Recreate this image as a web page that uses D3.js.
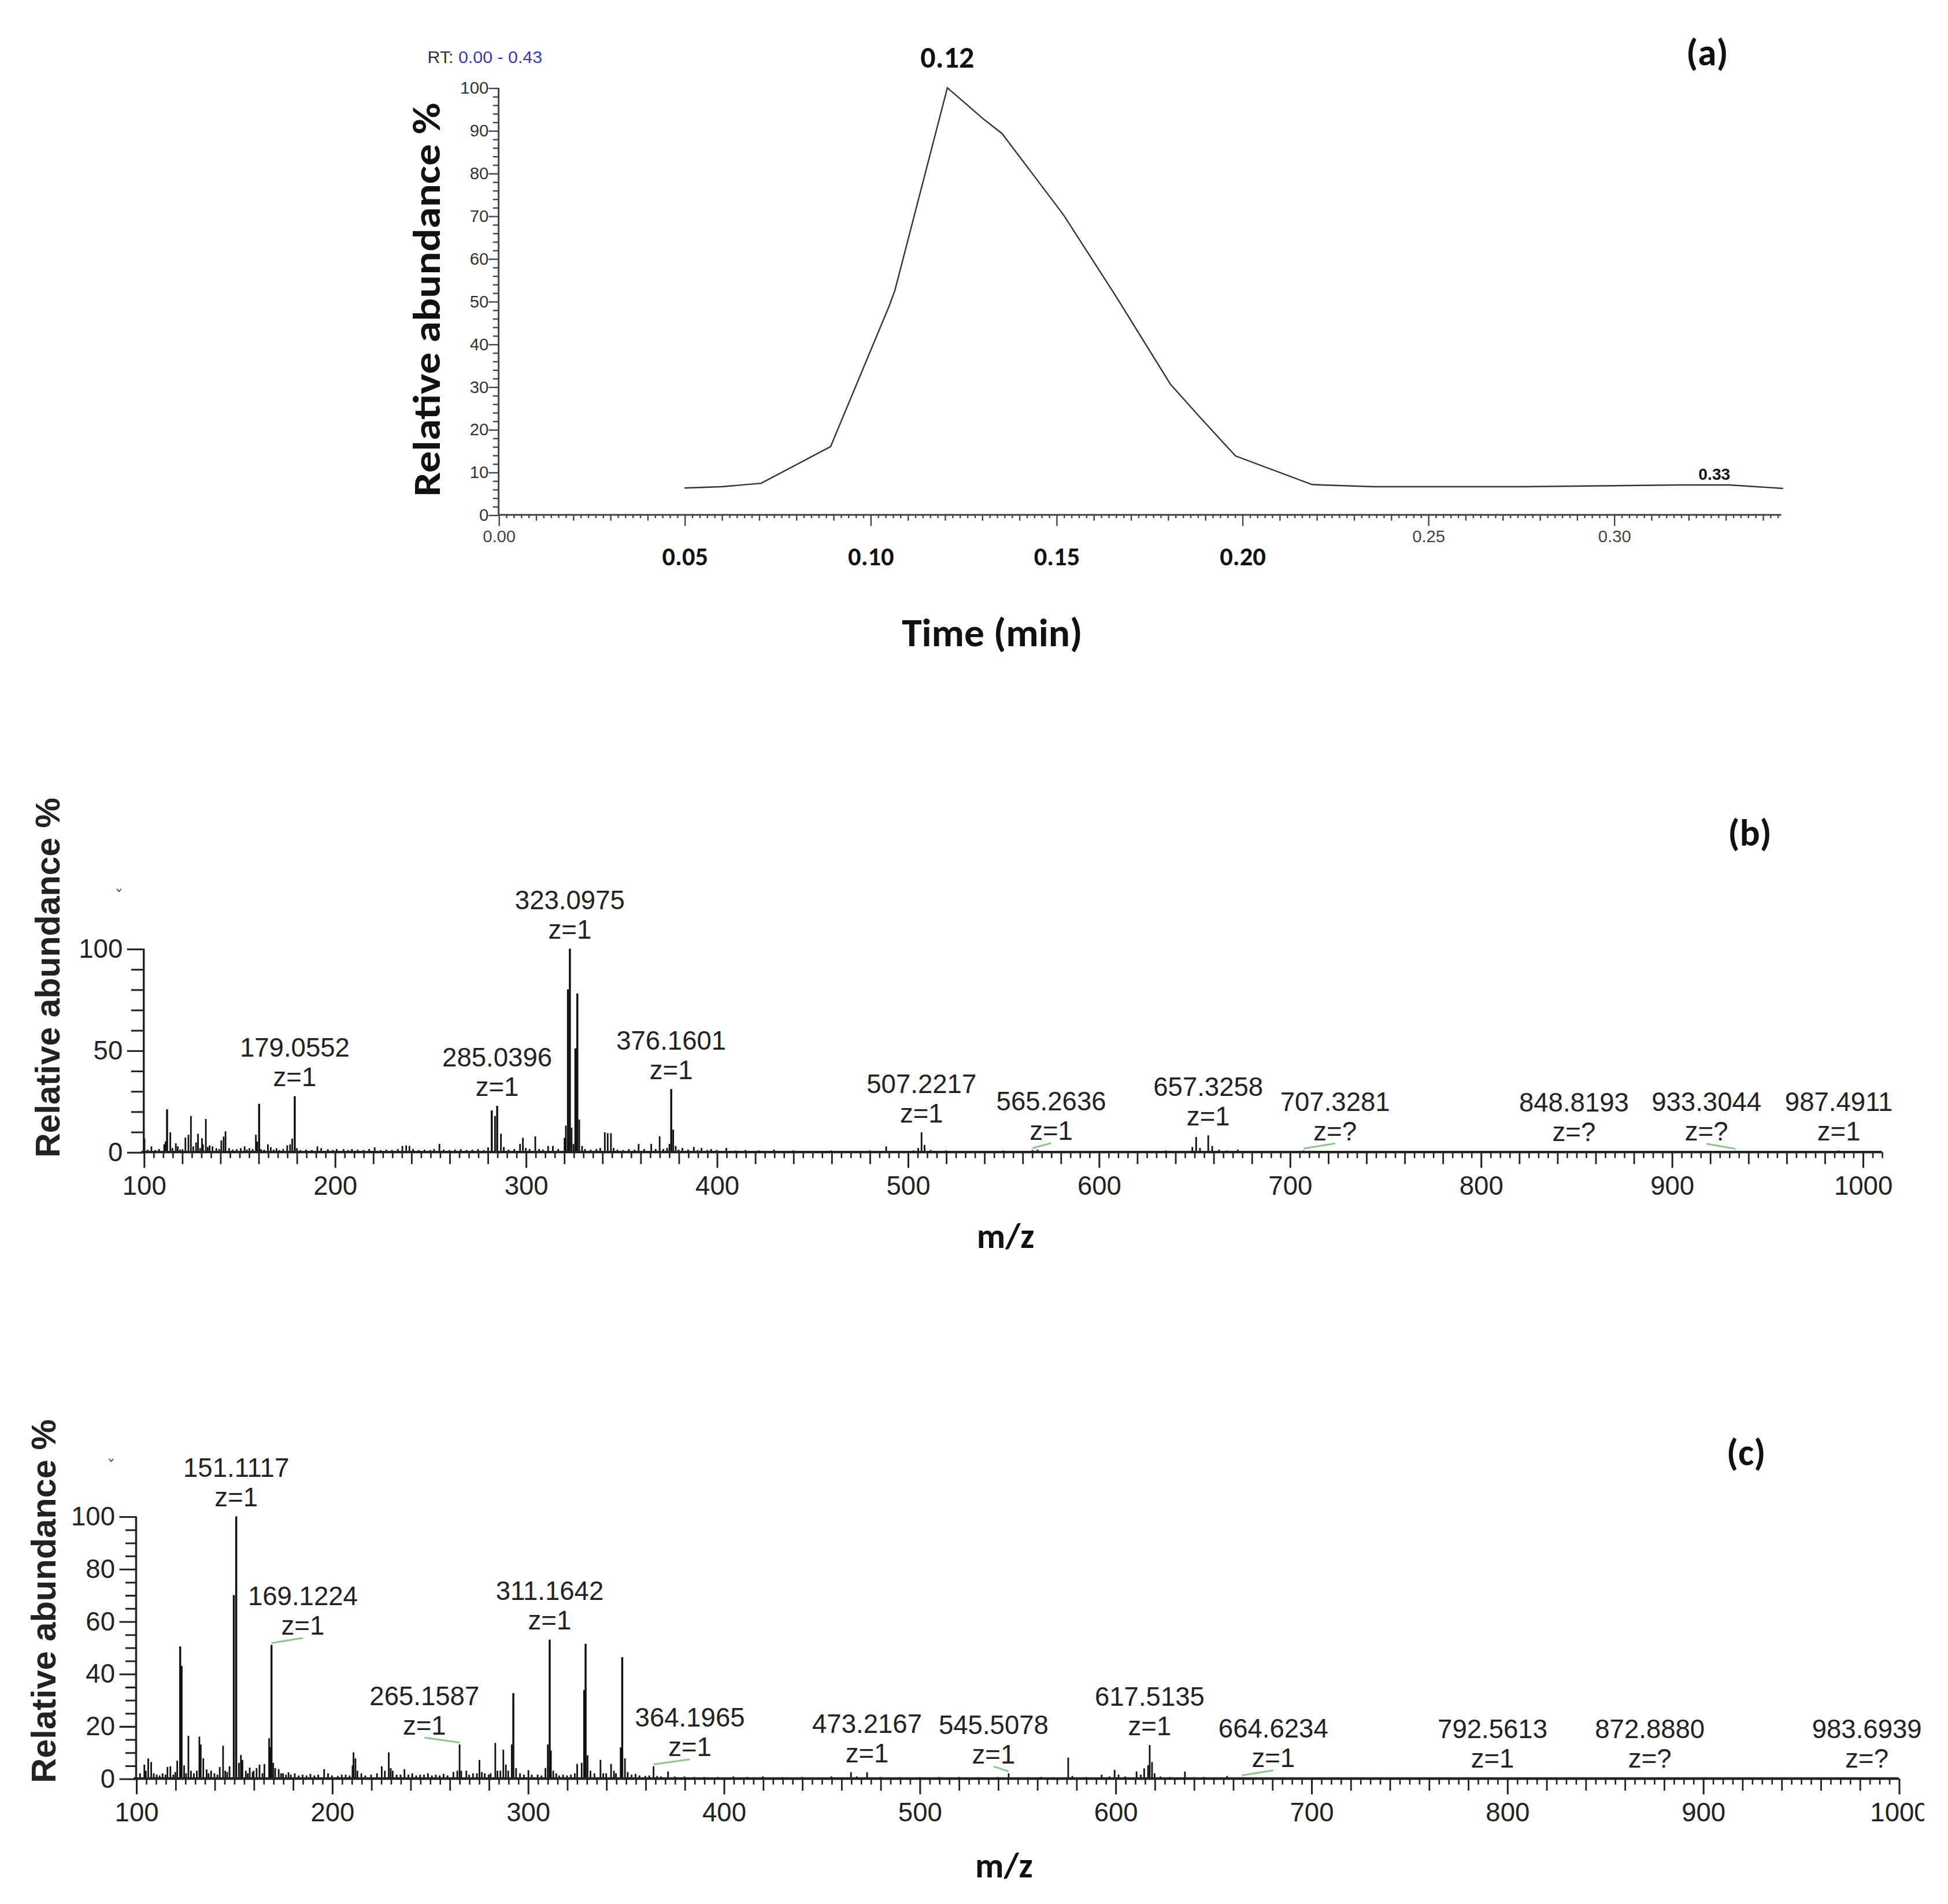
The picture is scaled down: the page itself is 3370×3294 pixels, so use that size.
<!DOCTYPE html>
<html>
<head>
<meta charset="utf-8">
<script src="https://cdn.jsdelivr.net/npm/d3@7"></script>
<style>
  body { margin: 0; background: #fff; }
  svg { display: block; }
</style>
</head>
<body>
<svg id="fig"></svg>
<script>
// ---- (a) total ion chromatogram ----
const rtTime = [0.050, 0.060, 0.0706, 0.0893, 0.1050, 0.1066, 0.1207, 0.1304, 0.1354, 0.1519,
  0.1656, 0.1807, 0.1886, 0.1982, 0.2188, 0.2215, 0.2353, 0.2756, 0.3180, 0.3310, 0.3455];
const rtAbund = [6.3, 6.6, 7.4, 16.0, 48.8, 52.6, 100, 92.7, 89.3, 70.3,
  51.8, 30.6, 22.9, 13.8, 7.1, 7.0, 6.6, 6.6, 7.0, 7.0, 6.2];
const rtApex = [0.1207, 0.327];          // labelled apexes
const rtSmallTicks = [0, 0.25, 0.30];     // instrument tick labels
const rtBoldTicks = [0.05, 0.10, 0.15, 0.20];
const abundTicksA = d3.range(0, 101, 10);

// ---- (b) MS spectrum [m/z, relative abundance %] ----
const specB = [
  [100.0,12.8],[100.4,6.6],[102,1.2],[104,2.8],[106,1.0],[108,1.5],[110.7,3.8],[111.4,5.2],[112.2,21],[113.9,9.7],
  [115,2.0],[116.8,4.3],[117.8,2.8],[119,1.2],[120.3,1.4],[121.8,7.1],[123.4,8.5],[124.7,17.7],[125.9,2.8],[127.4,4.7],
  [128.4,9.0],[129.5,2.0],[130.5,6.8],[131.0,3.8],[132.5,16.3],[133.5,2.5],[134.5,3.3],[136.0,2.8],[138.0,1.9],[139.5,1.5],
  [140.6,5.7],[141.8,7.6],[142.8,10.2],[144.7,1.9],[146.5,1.2],[148.7,1.4],[150.8,1.9],[152.8,2.8],[154,1.2],[155.3,1.9],
  [157,1.5],[158.7,8.5],[159.4,5.2],[160.4,23.7],[161.4,1.4],[163,1.2],[165.0,3.8],[166.5,2.4],[168,1.2],[169.5,1.9],
  [171,1.0],[173,1.5],[175.1,3.3],[176.6,3.8],[177.7,6.6],[179.0552,27.5],[180.2,1.9],[182,1.0],[185,1.2],[188,1.0],
  [190.9,2.8],[192.9,1.9],[196.4,1.4],[199,1.0],[201,1.5],[204.6,1.4],[207,1.0],[209,1.5],[212,1.2],[215,1.0],
  [218,1.5],[220.9,2.3],[224,1.0],[227,1.2],[230,1.0],[233,1.5],[235.4,3.0],[237.4,3.3],[239.1,3.0],[241,1.5],
  [244,1.0],[247,1.2],[250,1.0],[252,1.5],[254.8,4.0],[257,1.2],[260,1.0],[263,1.2],[266,1.5],[269,1.0],
  [272,1.2],[275,1.5],[278,1.0],[280.3,2.3],[282.2,20.5],[283.9,17.7],[285.0396,22.7],[287.0,9.0],[288.5,2.5],[291,1.2],
  [294,1.5],[297,4.0],[298.5,7.0],[300,2.0],[302,1.5],[305.0,7.7],[307,1.5],[309,1.2],[311.7,3.0],[314.2,3.0],
  [317,1.5],[320.3,7.0],[321.0,13],[322.1,80],[323.0975,100],[324.0,12],[325,4],[326.0,51],[327.0,78],[328.0,16],
  [329.5,3],[331,1.5],[334,1.2],[337,1.5],[339,2],[341.4,9.7],[342.9,9.3],[344.6,9.3],[346,2],[348,1.2],
  [351,1.0],[354,1.5],[357,1.2],[359.1,4.0],[362,1.5],[365.7,4.0],[368,1.5],[370.1,7.7],[372,1.5],[374,2],
  [375.2,4],[376.1601,31],[377.2,11],[378.5,3],[380,1.2],[382,2.0],[385,1.2],[388,2.5],[390,1.0],[392,2.0],
  [395,1.0],[397,1.5],[400,1.0],[405,2.0],[410,0.8],[415,1.0],[422,0.8],[430,1.2],[440,0.8],[450,0.6],
  [460,0.8],[470,0.6],[480,0.8],[488.7,2.8],[495,0.6],[503,0.8],[505.5,2],[507.2217,9.7],[508.8,3.5],[512,1],
  [520,0.8],[530,0.6],[540,0.6],[550,0.8],[558,0.5],[565.2636,1.0],[568,1.2],[575,0.6],[585,0.5],[595,0.6],
  [605,0.5],[615,0.6],[625,0.5],[635,0.8],[642,0.6],[649,2.5],[651,7.4],[653,2],[657.3258,8.2],[659.4,3],
  [663,1.2],[667,0.8],[672.8,1.2],[680,0.5],[690,0.5],[707.3281,0.8],[720,0.4],[760,0.3],[800,0.3],[848.8193,0.6],
  [880,0.3],[933.3044,0.7],[960,0.3],[987.4911,0.8]
];
const annB = [[179.0552,"1"],[285.0396,"1"],[323.0975,"1"],[376.1601,"1"],[507.2217,"1"],[565.2636,"1"],
  [657.3258,"1"],[707.3281,"?"],[848.8193,"?"],[933.3044,"?"],[987.4911,"1"]];
const abundTicksB = [0, 50, 100];

// ---- (c) MS spectrum [m/z, relative abundance %] ----
const specC = [
  [102,2.0],[104.2,5.3],[105,3],[106.2,7.7],[107.7,6.3],[109,2],[110.5,1.5],[112,1.2],[113.5,2],[115,1.5],
  [116,4.4],[117.5,4.7],[119,1.5],[120,2.5],[121,6.8],[122.5,50.4],[123.2,43],[124.5,5],[125.5,2],[126.7,16.3],
  [128,3],[129.5,2],[131,3],[132.3,16],[133,13],[134.3,7.7],[136,3.5],[137,2],[138.3,3],[140,2],
  [141.5,1.5],[142.7,4.4],[144.4,12.5],[145.5,3],[146.5,2.5],[147.7,4.7],[149.9,70],[151.1117,100],[152.5,6],[153.5,9],
  [154.3,7.1],[156,3],[157,2],[158,4.2],[159.5,2.5],[160,3],[161.5,4],[163,5.3],[164.5,2],[165.5,5.5],
  [167.9,15.4],[168.4,12],[169.1224,51],[170,6],[171,4],[172.8,3.6],[174,2],[175,2],[176.5,1.5],[177.8,2.4],
  [179,1.5],[181,2],[183,1.2],[185,1.5],[187,1.2],[189,1.8],[191,1.2],[193,1.5],[196,3.6],[198,2],
  [200,1.2],[203,1],[205,1.5],[207,1.5],[209,1.2],[210.5,5],[211,10],[212,7.7],[213,3],[215,2],
  [217,1.2],[220,1.5],[223,2],[225.4,4.7],[227,3],[229,10],[230,4],[231,3],[233,1.5],[235,1.5],
  [237,3.6],[239,1.5],[241,2],[243,1.2],[245,1.5],[247,1.5],[249,2],[251,1.2],[253,1.5],[255,1.2],
  [257,1.8],[259,1.2],[262,2.5],[264,3],[265.1587,13],[266,3],[268.6,3],[270,1.5],[272,2],[274,2],
  [275.3,7.1],[276.5,2.5],[278,2],[280,1.5],[281,2],[283.4,13.6],[284.5,3],[286,3],[287.5,11],[288.8,5.3],
  [290,3],[291.8,13],[292.6,32.6],[294,4],[296,2],[298,1.5],[300.3,3.2],[302,1.5],[305,1.5],[307,1.2],
  [309,4],[310.2,13],[311.1642,53],[311.8,10.7],[313,3],[314.5,2],[316,1.2],[318,1.5],[320,1.2],[322,1.5],
  [324,2],[325.2,5.6],[327.5,6],[328.8,33.8],[329.5,51.4],[330.5,8.9],[332,3],[334,2],[337.1,7.1],[338.5,2],
  [340,2],[342.5,5.6],[344,3],[345,2],[347.4,11.9],[348.2,46.3],[349.6,7.7],[351,2.5],[353,1.5],[355,1.8],
  [357,1.2],[360,1],[362,1.2],[364.1965,4.7],[366,1],[368,0.8],[371.6,2.7],[375,0.8],[380,0.8],[385,0.6],
  [390,0.6],[397,0.6],[405,0.8],[412,0.6],[420,0.8],[430,0.5],[440,0.6],[455,0.8],[465,2.4],[468,0.8],
  [473.2167,2.4],[480,0.6],[490,0.5],[500,0.5],[510,0.6],[520,0.6],[530,0.5],[540,0.6],[545.5078,2],[555,0.5],
  [562,0.6],[568,0.5],[575.9,8],[578,1],[585,0.6],[593,1.5],[597,0.8],[599.6,3.3],[601.6,1.5],[605,0.8],
  [610.8,2.7],[613,1.5],[614.7,3.9],[616.7,5.1],[617.5135,12.8],[618.7,6.3],[620,2],[623,0.8],[628,0.6],[635.5,2.7],
  [640,0.5],[645,0.6],[657,1],[664.6234,0.5],[680,0.3],[720,0.3],[792.5613,0.4],[840,0.3],[872.888,0.4],[930,0.3],
  [983.6939,0.4]
];
const annC = [[151.1117,"1"],[169.1224,"1"],[265.1587,"1"],[311.1642,"1"],[364.1965,"1"],[473.2167,"1"],
  [545.5078,"1"],[617.5135,"1"],[664.6234,"1"],[792.5613,"1"],[872.8880,"?"],[983.6939,"?"]];
const abundTicksC = d3.range(0, 101, 20);

// label nudges (px) where the software moved a label sideways
const nudgeB = { 565.2636: 15, 707.3281: 25, 933.3044: -23 };
const nudgeC = { 169.1224: 25, 265.1587: -28, 364.1965: 29, 545.5078: -12, 664.6234: 25 };

const W = 1553, H = 1518;
const svg = d3.select("#fig")
  .attr("width", 3370).attr("height", 3294)
  .attr("viewBox", `0 0 ${W} ${H}`);
svg.append("rect").attr("width", W).attr("height", H).attr("fill", "#fff");

const SANS = "'Liberation Sans', Arial, sans-serif";
const CAL = "Carlito, Lato, 'Open Sans', sans-serif";

// draw one row of ticks with a d3 axis, no domain path
function tickRow(parent, axis, values, size, tr, fmt, pad) {
  const t = parent.append("g").attr("transform", tr)
    .call(axis.tickValues(values).tickSize(size).tickPadding(pad || 0)
      .tickFormat(fmt || (() => "")));
  t.select(".domain").remove();
  t.attr("font-size", null).attr("font-family", null);
  return t;
}

// ================= panel (a) =================
(function () {
  const g = svg.append("g");
  const x = d3.scaleLinear().domain([0, 0.345]).range([397.5, 1420.1]);
  const y = d3.scaleLinear().domain([0, 100]).range([410.5, 70]);
  const axCol = "#444";

  const minor = d3.range(0, 346, 2).filter(v => v % 10 !== 0).map(v => v / 1000);
  const mid = d3.range(0, 346, 10).filter(v => v % 50 !== 0).map(v => v / 1000);
  const major = d3.range(0, 346, 50).map(v => v / 1000);
  const xt = `translate(0,${y(0)})`;
  [[minor, 2.6], [mid, 4.6], [major, 8.8]].forEach(([vals, s]) =>
    tickRow(g, d3.axisBottom(x), vals, s, xt).selectAll("line").attr("stroke", axCol).attr("stroke-width", 1.1));

  // small instrument labels
  tickRow(g, d3.axisBottom(x), rtSmallTicks, 0, xt, d3.format(".2f"), 12.3)
    .selectAll("text").attr("font-family", SANS).attr("font-size", 13.5).attr("fill", "#444");
  // bold overlay labels
  tickRow(g, d3.axisBottom(x), rtBoldTicks, 0, xt, d3.format(".2f"), 25.6)
    .selectAll("text").attr("font-family", CAL).attr("font-weight", "bold")
    .attr("font-size", 20.5).attr("fill", "#111");

  const yMinor = d3.range(0, 101, 2).filter(v => v % 10 !== 0);
  const yt = `translate(${x(0)},0)`;
  tickRow(g, d3.axisLeft(y), yMinor, 4.5, yt).selectAll("line").attr("stroke", axCol).attr("stroke-width", 1.1);
  const ya = tickRow(g, d3.axisLeft(y), abundTicksA, 8, yt, d3.format("d"), 0);
  ya.selectAll("line").attr("stroke", axCol).attr("stroke-width", 1.1);
  ya.selectAll("text").attr("font-family", SANS).attr("font-size", 13.5).attr("fill", "#333");

  g.append("line").attr("x1", x(0)).attr("x2", x(0.345)).attr("y1", y(0)).attr("y2", y(0))
    .attr("stroke", axCol).attr("stroke-width", 1.4);
  g.append("line").attr("x1", x(0)).attr("x2", x(0)).attr("y1", y(0)).attr("y2", y(100))
    .attr("stroke", axCol).attr("stroke-width", 1.4);

  const pts = rtTime.map((t, i) => [t, rtAbund[i]]);
  g.append("path").datum(pts)
    .attr("d", d3.line().x(d => x(d[0])).y(d => y(d[1])))
    .attr("fill", "none").attr("stroke", "#333").attr("stroke-width", 1.1);

  // apex labels
  const interp = t => {
    const i = d3.bisectLeft(rtTime, t);
    if (i <= 0) return rtAbund[0];
    if (i >= rtTime.length) return rtAbund[rtAbund.length - 1];
    const f = (t - rtTime[i - 1]) / (rtTime[i] - rtTime[i - 1]);
    return rtAbund[i - 1] + f * (rtAbund[i] - rtAbund[i - 1]);
  };
  rtApex.forEach((t, i) => {
    const big = i === 0;
    g.append("text")
      .attr("x", x(t)).attr("y", y(interp(t)) - (big ? 16.3 : 4))
      .attr("text-anchor", "middle")
      .attr("font-family", big ? CAL : SANS).attr("font-weight", "bold")
      .attr("font-size", big ? 24 : 13).attr("fill", "#111")
      .text(d3.format(".2f")(t));
  });

  const rt = g.append("text").attr("x", 340.8).attr("y", 50.2)
    .attr("font-family", SANS).attr("font-size", 14);
  rt.append("tspan").attr("fill", "#333").text("RT: ");
  rt.append("tspan").attr("fill", "#3838c4").text("0.00 - 0.43");

  g.append("text").attr("transform", "translate(350.5,238.9) rotate(-90)")
    .attr("text-anchor", "middle").attr("font-family", CAL).attr("font-weight", "bold")
    .attr("font-size", 31).attr("textLength", 314).attr("lengthAdjust", "spacingAndGlyphs")
    .attr("fill", "#111").text("Relative abundance %");
  g.append("text").attr("x", 791).attr("y", 515.4).attr("text-anchor", "middle")
    .attr("font-family", CAL).attr("font-weight", "bold").attr("font-size", 32)
    .attr("fill", "#111").text("Time (min)");
  g.append("text").attr("x", 1361).attr("y", 52).attr("text-anchor", "middle")
    .attr("font-family", CAL).attr("font-weight", "bold").attr("font-size", 30)
    .attr("fill", "#111").text("(a)");
})();

// ================= spectra (b), (c) =================
function spectrum(cfg) {
  const g = svg.append("g");
  if (cfg.clip) {
    const id = "clip" + cfg.tag;
    svg.append("defs").append("clipPath").attr("id", id)
      .append("rect").attr("x", 0).attr("y", 0).attr("width", cfg.clip).attr("height", H);
    g.attr("clip-path", `url(#${id})`);
  }
  const x = d3.scaleLinear().domain(cfg.xDomain).range(cfg.xRange);
  const y = d3.scaleLinear().domain([0, 100]).range([cfg.y0, cfg.y100]);
  const col = "#222";
  const xt = `translate(0,${y(0)})`;
  const hi = cfg.xDomain[1];

  const minor = d3.range(100, hi + 1, 5).filter(v => v % 20 !== 0);
  const mid = d3.range(100, hi + 1, 20).filter(v => v % 100 !== 0);
  const major = d3.range(100, 1001, 100);
  tickRow(g, d3.axisBottom(x), minor, 4.8, xt).selectAll("line").attr("stroke", col).attr("stroke-width", 1.2);
  tickRow(g, d3.axisBottom(x), mid, 9.6, xt).selectAll("line").attr("stroke", col).attr("stroke-width", 1.3);
  const xa = tickRow(g, d3.axisBottom(x), major, 12.6, xt, d3.format("d"), 6.5);
  xa.selectAll("line").attr("stroke", col).attr("stroke-width", 1.4);
  xa.selectAll("text").attr("font-family", SANS).attr("font-size", 21).attr("fill", col);

  const yt = `translate(${x(100)},0)`;
  tickRow(g, d3.axisLeft(y), cfg.yMinor, cfg.yMinorLen, yt).selectAll("line")
    .attr("stroke", col).attr("stroke-width", 1.4);
  const ya = tickRow(g, d3.axisLeft(y), cfg.yTicks, 13.3, yt, d3.format("d"), 3.5);
  ya.selectAll("line").attr("stroke", col).attr("stroke-width", 1.4);
  ya.selectAll("text").attr("font-family", SANS).attr("font-size", 21).attr("fill", col);

  // sticks
  g.append("g").selectAll("line").data(cfg.data).join("line")
    .attr("x1", d => x(d[0])).attr("x2", d => x(d[0]))
    .attr("y1", y(0)).attr("y2", d => y(d[1]))
    .attr("stroke", "#111").attr("stroke-width", d => d[1] > 20 ? 1.6 : 1.3);

  g.append("line").attr("x1", x(100) - 2).attr("x2", x(hi)).attr("y1", y(0)).attr("y2", y(0))
    .attr("stroke", col).attr("stroke-width", 2);
  g.append("line").attr("x1", x(100)).attr("x2", x(100)).attr("y1", y(0)).attr("y2", y(100))
    .attr("stroke", col).attr("stroke-width", 1.6);

  // peak annotations
  const heightAt = mz => {
    const near = cfg.data.filter(d => Math.abs(d[0] - mz) < 0.05);
    return near.length ? d3.max(near, d => d[1]) : 0;
  };
  cfg.ann.forEach(([mz, z]) => {
    const h = heightAt(mz);
    const px = x(mz), py = y(h);
    const dx = cfg.nudge[mz] || 0;
    const lx = px + dx;
    const zBase = py - 8;
    if (Math.abs(dx) > 8) {
      g.append("line").attr("x1", px).attr("y1", py - 1.5).attr("x2", lx).attr("y2", zBase + 2.5)
        .attr("stroke", "#7fc27f").attr("stroke-width", 1.4).attr("opacity", 0.9);
    }
    g.append("text").attr("x", lx).attr("y", zBase - 23.5).attr("text-anchor", "middle")
      .attr("font-family", SANS).attr("font-size", 21).attr("fill", col)
      .text(d3.format(".4f")(mz));
    g.append("text").attr("x", lx).attr("y", zBase).attr("text-anchor", "middle")
      .attr("font-family", SANS).attr("font-size", 21).attr("fill", col)
      .text("z=" + z);
  });

  g.append("text").attr("x", cfg.markX).attr("y", cfg.markY).attr("text-anchor", "middle")
    .attr("font-family", "'DejaVu Sans', sans-serif").attr("font-size", 14).attr("fill", "#555").text("ˇ");

  g.append("text").attr("transform", `translate(${cfg.titleX},${cfg.titleY}) rotate(-90)`)
    .attr("text-anchor", "middle").attr("font-family", SANS).attr("font-weight", "bold")
    .attr("font-size", 27).attr("textLength", cfg.titleLen).attr("lengthAdjust", "spacingAndGlyphs")
    .attr("fill", col).text("Relative abundance %");
  g.append("text").attr("x", cfg.mzX).attr("y", cfg.mzY).attr("text-anchor", "middle")
    .attr("font-family", CAL).attr("font-weight", "bold").attr("font-size", 28)
    .attr("fill", "#111").text("m/z");
  g.append("text").attr("x", cfg.tagX).attr("y", cfg.tagY).attr("text-anchor", "middle")
    .attr("font-family", CAL).attr("font-weight", "bold").attr("font-size", 30)
    .attr("fill", "#111").text(`(${cfg.tag})`);
}

spectrum({
  tag: "b", data: specB, ann: annB, nudge: nudgeB,
  xDomain: [100, 1010], xRange: [114.6, 114.6 + 9.1 * 152.27],
  y0: 918.5, y100: 756.4,
  yTicks: abundTicksB, yMinor: d3.range(0, 101, 10).filter(v => v % 50 !== 0), yMinorLen: 10,
  titleX: 47.5, titleY: 779.5, titleLen: 287,
  mzX: 801.7, mzY: 995, tagX: 1395, tagY: 674,
  markX: 94.8, markY: 720
});

spectrum({
  tag: "c", data: specC, ann: annC, nudge: nudgeC,
  xDomain: [100, 1000], xRange: [108.5, 1513.8],
  y0: 1418, y100: 1209,
  yTicks: abundTicksC, yMinor: d3.range(0, 101, 5).filter(v => v % 20 !== 0), yMinorLen: 8.5,
  titleX: 44, titleY: 1276.6, titleLen: 290,
  mzX: 800.4, mzY: 1497, tagX: 1392, tagY: 1168,
  markX: 88.6, markY: 1174, clip: 1534
});
</script>
</body>
</html>
